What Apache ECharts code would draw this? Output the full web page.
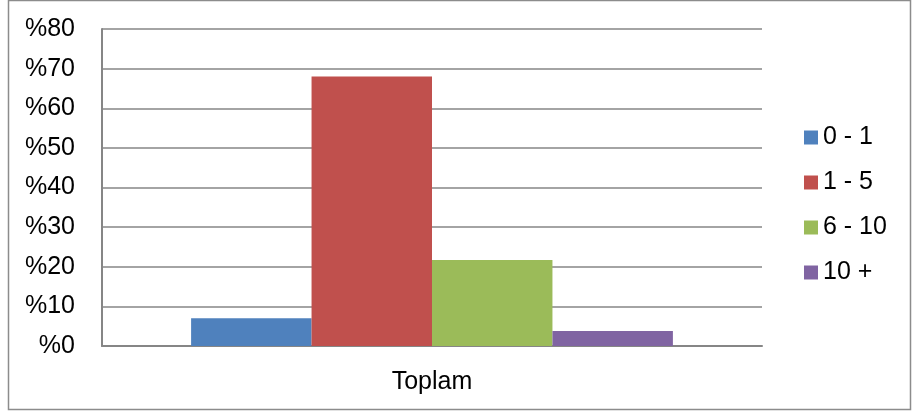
<!DOCTYPE html>
<html>
<head>
<meta charset="utf-8">
<script src="https://cdn.jsdelivr.net/npm/echarts@6/dist/echarts.min.js"></script>
<style>
  html, body { margin: 0; padding: 0; background: #fff; }
  #main { width: 912px; height: 412px; }
</style>
</head>
<body>
<div id="main"></div>
<script>
// kategori ve seriler
var categories = ['Toplam'];
var seriesNames = ['0 - 1', '1 - 5', '6 - 10', '10 +'];
var seriesValues = [[7], [68], [21.7], [3.8]];
var colors = ['#4F81BD', '#C0504D', '#9BBB59', '#8064A2'];

var chart = echarts.init(document.getElementById('main'));

var series = [];
for (var i = 0; i < seriesNames.length; i++) {
  series.push({
    name: seriesNames[i],
    type: 'bar',
    data: seriesValues[i],
    barGap: '0%',
    barCategoryGap: '27%',
    itemStyle: { color: colors[i] }
  });
}

chart.setOption({
  animation: false,
  textStyle: { fontFamily: 'Liberation Sans, Arial, sans-serif' },
  graphic: [{
    type: 'rect',
    shape: { x: 8.5, y: 0.5, width: 902, height: 409 },
    style: { fill: 'none', stroke: '#8c8c8c', lineWidth: 1.5 },
    silent: true
  }],
  grid: { left: 102, right: 150, top: 29, bottom: 66, containLabel: false },
  legend: {
    orient: 'vertical',
    left: 799,
    top: 120,
    itemWidth: 14,
    itemHeight: 14,
    itemGap: 20,
    icon: 'rect',
    textStyle: { fontSize: 25, lineHeight: 25, color: '#000' },
    data: seriesNames
  },
  xAxis: {
    type: 'category',
    data: categories,
    axisTick: { show: false },
    axisLine: { lineStyle: { color: '#868686', width: 2 } },
    axisLabel: { fontSize: 25, color: '#000', margin: 24 }
  },
  yAxis: {
    type: 'value',
    min: 0,
    max: 80,
    interval: 10,
    axisLine: { show: true, lineStyle: { color: '#868686', width: 2 } },
    axisTick: { show: false },
    splitLine: { lineStyle: { color: '#868686', width: 1.5 } },
    axisLabel: {
      fontSize: 25,
      color: '#000',
      margin: 27,
      formatter: function (v) { return '%' + v; }
    }
  },
  series: series
});
</script>
</body>
</html>
